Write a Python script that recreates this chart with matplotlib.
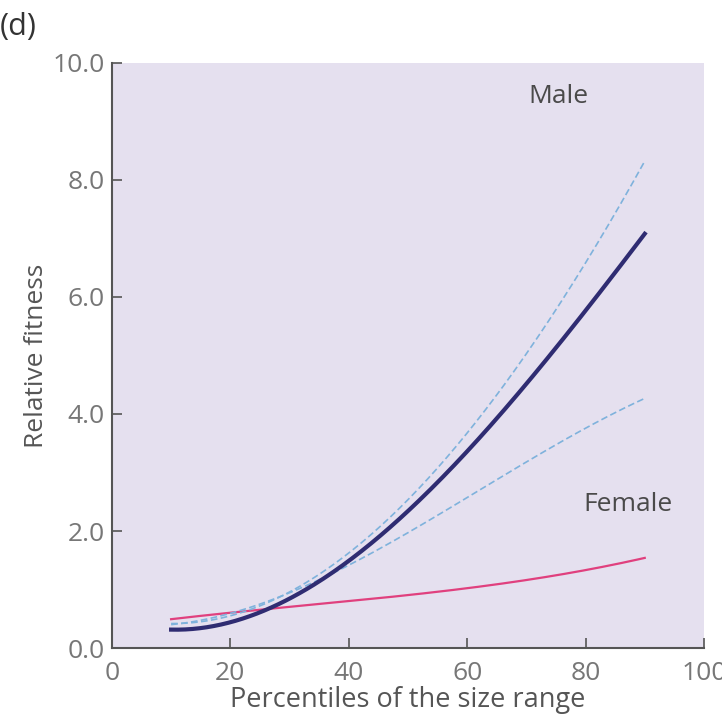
import numpy as np
import matplotlib
matplotlib.use("Agg")
import matplotlib.pyplot as plt

plt.rcParams['font.family'] = ['Open Sans', 'DejaVu Sans']

# Data
pct = [10, 20, 30, 40, 50, 60, 70, 80, 90]
male = [0.28, 0.50, 0.88, 1.45, 2.30, 3.35, 4.55, 5.80, 7.05]
male_upper = [0.38, 0.62, 1.00, 1.55, 2.50, 3.70, 5.05, 6.60, 8.30]
male_lower = [0.40, 0.60, 0.95, 1.40, 1.98, 2.58, 3.18, 3.75, 4.27]
female = [0.50, 0.60, 0.70, 0.80, 0.92, 1.03, 1.16, 1.32, 1.55]

xticks = [0, 20, 40, 60, 80, 100]
yticks = [0.0, 2.0, 4.0, 6.0, 8.0, 10.0]


def smooth(xs, ys, n=200):
    # cubic fit through the read points to draw a smooth curve
    c = np.polyfit(xs, ys, 3)
    xx = np.linspace(xs[0], xs[-1], n)
    return xx, np.polyval(c, xx)


fig = plt.figure(figsize=(7.22, 7.21), dpi=100)
ax = fig.add_axes([0.155, 0.101, 0.82, 0.812])
ax.set_facecolor('#e5e0ef')

xx, yy = smooth(pct, female)
ax.plot(xx, yy, color='#e0407e', lw=1.6)

xx, yy = smooth(pct, male_upper)
ax.plot(xx, yy, color='#7fb2dc', lw=1.2, ls=(0, (4, 2)))
xx, yy = smooth(pct, male_lower)
ax.plot(xx, yy, color='#7fb2dc', lw=1.2, ls=(0, (4, 2)))

xx, yy = smooth(pct, male)
ax.plot(xx, yy, color='#2f2c72', lw=3.0)

ax.text(75.5, 9.42, 'Male', fontsize=19, color='#4a4a4a', ha='center', va='center')
ax.text(87.2, 2.45, 'Female', fontsize=19, color='#4a4a4a', ha='center', va='center')

ax.set_xlim(0, 100)
ax.set_ylim(0, 10)
ax.set_xticks(xticks)
ax.set_yticks(yticks)
ax.set_yticklabels(['%.1f' % v for v in yticks])
ax.tick_params(direction='in', length=7, width=1.2, color='#555555',
               labelcolor='#777777', labelsize=19)
ax.tick_params(axis='x', pad=9)
ax.tick_params(axis='y', pad=5)

for s in ['top', 'right']:
    ax.spines[s].set_visible(False)
for s in ['left', 'bottom']:
    ax.spines[s].set_color('#555555')
    ax.spines[s].set_linewidth(1.5)

ax.set_xlabel('Percentiles of the size range', fontsize=19.5, color='#555555', labelpad=0)
ax.set_ylabel('Relative fitness', fontsize=19, color='#555555', labelpad=3)

fig.text(0.0, 0.962, '(d)', fontsize=22, color='#333333', va='center')

fig.savefig('out.png', dpi=100, facecolor='white')
